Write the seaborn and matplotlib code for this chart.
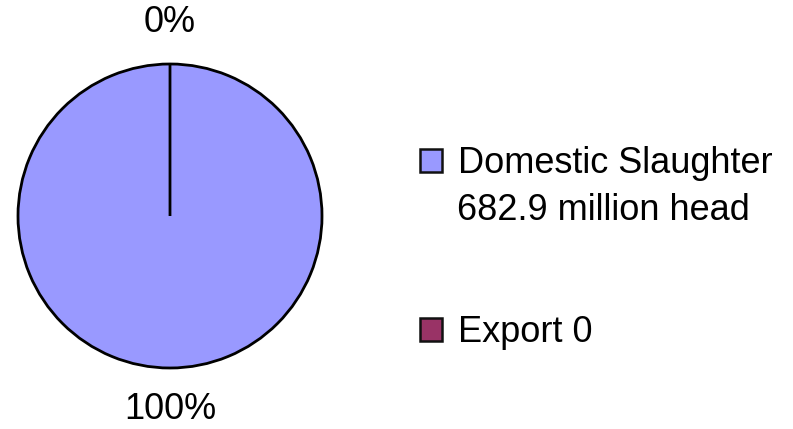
import matplotlib
matplotlib.use("Agg")
import matplotlib.pyplot as plt
import matplotlib.patches as mpatches
import seaborn as sns

# Data
categories = ['Domestic Slaughter', 'Export']
values = [682.9, 0]
legend_labels = ['Domestic Slaughter', 'Export 0']
second_line = '682.9 million head'
colors = ['#9999FF', '#993366']

sns.set_style('white')
plt.rcParams['font.family'] = ['Liberation Sans', 'DejaVu Sans']
plt.rcParams['text.color'] = 'black'

fig = plt.figure(figsize=(7.93, 4.29), dpi=100)
ax = fig.add_axes([18 / 793, 61 / 429, 304 / 793, 304 / 429])

wedges, texts, autotexts = ax.pie(values, colors=colors, startangle=90, counterclock=False,
                                  autopct='%.0f%%', pctdistance=1.275,
                                  wedgeprops=dict(edgecolor='black', linewidth=2),
                                  textprops=dict(fontsize=26, color='black'))
ax.set_xlim(-1, 1)
ax.set_ylim(-1, 1)
ax.set_aspect('equal')
ax.axis('off')

handles = [mpatches.Patch(facecolor=c, edgecolor='#111111', linewidth=1.8) for c in colors]
leg = fig.legend(handles, legend_labels, loc='upper left', bbox_to_anchor=(420 / 793, 1 - 146 / 429),
                 frameon=False, fontsize=26, handlelength=0.6, handleheight=0.6,
                 handletextpad=0.45, labelspacing=3.72, borderpad=0, borderaxespad=0)
for t in leg.get_texts():
    t.set_color('black')

fig.text(457 / 793, 1 - 220 / 429, second_line, fontsize=26, va='baseline', ha='left', color='black')

fig.savefig('out.png', dpi=100)
